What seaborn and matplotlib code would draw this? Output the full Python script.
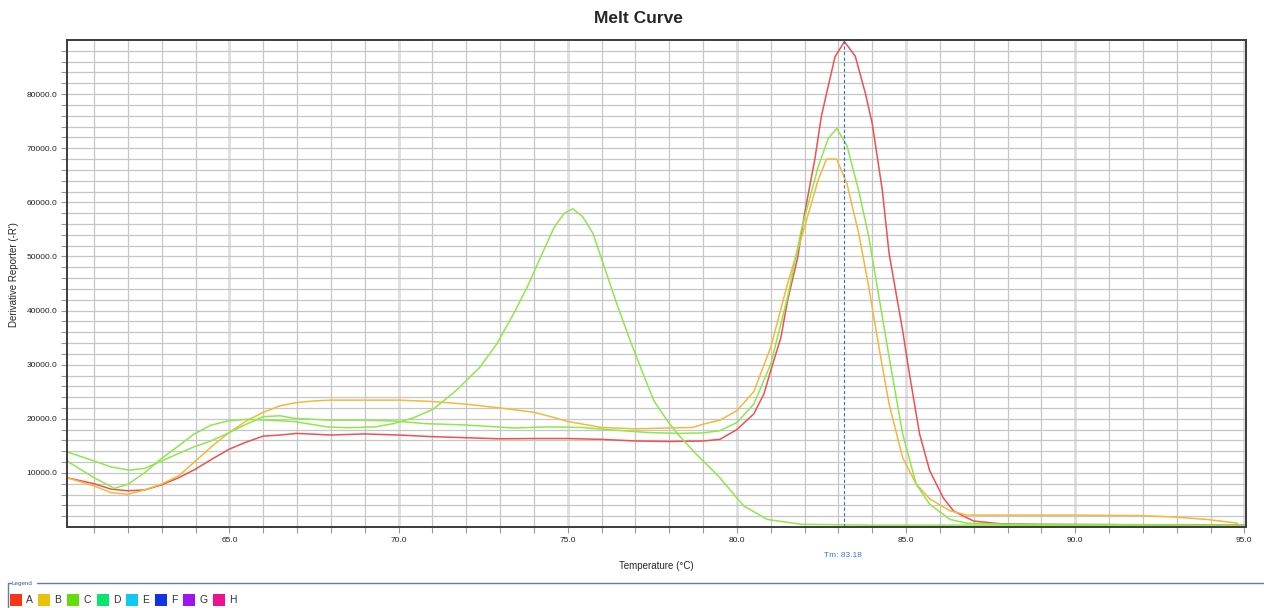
import numpy as np
import pandas as pd
import matplotlib
matplotlib.use("Agg")
import matplotlib.pyplot as plt
from matplotlib.lines import Line2D
from matplotlib.patches import Rectangle
import seaborn as sns

# Well A (red)
temp_a = [60.2, 61.0, 61.5, 62.0, 62.5, 63.0, 63.5, 64.0, 64.5, 65.0, 65.5, 66.0, 66.5, 67.0,
          68.0, 69.0, 70.0, 71.0, 72.0, 73.0, 74.0, 75.0, 76.0, 77.0, 78.0, 79.0, 79.5, 80.0,
          80.5, 80.8, 81.0, 81.3, 81.5, 81.8, 82.0, 82.3, 82.5, 82.9, 83.18, 83.5, 83.8, 84.0,
          84.3, 84.5, 84.9, 85.1, 85.4, 85.7, 86.1, 86.4, 86.7, 87.0, 87.8, 89.0, 91.0, 93.0, 95.0]
rfu_a = [9100, 8000, 7000, 6700, 6850, 7800, 9100, 10700, 12600, 14400, 15700, 16800, 17000, 17300,
         17000, 17200, 17000, 16700, 16500, 16300, 16350, 16350, 16200, 15900, 15800, 15900, 16200, 18000,
         20900, 24600, 28900, 35000, 41900, 49900, 57900, 67800, 76000, 86900, 89700, 87000, 80100, 74600,
         62200, 50500, 36300, 28300, 17200, 10400, 5400, 3000, 2000, 1100, 600, 500, 450, 400, 350]

# Well B (orange)
temp_b = [60.2, 61.0, 61.5, 62.0, 62.5, 63.0, 63.5, 64.0, 64.5, 65.0, 65.5, 66.0, 66.5, 67.0,
          67.5, 68.0, 69.0, 70.0, 71.0, 72.0, 73.0, 74.0, 74.5, 75.0, 76.0, 77.0, 78.0, 78.7,
          79.0, 79.5, 80.0, 80.5, 81.0, 81.5, 82.0, 82.4, 82.65, 82.95, 83.25, 83.6, 83.9, 84.2,
          84.5, 84.9, 85.3, 85.7, 86.3, 86.8, 88.0, 90.0, 92.0, 92.9, 93.9, 94.8]
rfu_b = [9100, 7600, 6350, 6050, 6850, 7950, 9450, 12200, 15000, 17500, 19600, 21200, 22400, 23000,
         23300, 23450, 23450, 23450, 23200, 22700, 22000, 21200, 20400, 19500, 18400, 18150, 18300, 18400,
         19000, 19750, 21500, 25000, 33200, 45000, 55400, 64100, 68000, 68000, 63500, 54300, 44300, 33200,
         22700, 12800, 7950, 5200, 3000, 2200, 2200, 2200, 2100, 1850, 1400, 700]

# Well C (green, main product)
temp_c = [60.2, 61.0, 61.5, 62.05, 62.5, 63.0, 63.5, 63.95, 64.45, 64.95, 65.5, 66.0, 66.5, 66.9,
          67.9, 68.9, 69.85, 70.8, 71.8, 72.4, 73.4, 74.4, 75.4, 76.4, 77.4, 78.3, 79.0, 79.5,
          80.0, 80.5, 81.0, 81.5, 81.9, 82.4, 82.7, 82.95, 83.25, 83.6, 83.9, 84.2, 84.5, 84.9,
          85.3, 85.7, 86.3, 86.8, 88.0, 90.0, 92.0, 94.0, 95.0]
rfu_c = [13900, 12200, 11100, 10500, 10850, 12200, 13600, 14800, 15900, 17300, 19000, 20400, 20550, 20100,
         19750, 19750, 19600, 19100, 18900, 18700, 18300, 18500, 18400, 17900, 17450, 17300, 17400, 17800,
         19300, 22700, 30100, 42500, 54800, 66500, 71800, 73650, 70550, 62200, 53600, 42500, 31400, 17200,
         7900, 4200, 1400, 700, 500, 450, 400, 350, 300]

# Well C replicate (green, primer-dimer peak)
temp_c2 = [60.2, 61.0, 61.6, 62.0, 62.5, 63.0, 63.5, 63.95, 64.45, 64.95, 65.5, 66.1, 66.9, 67.9,
           68.5, 69.3, 69.85, 70.45, 71.03, 71.7, 72.4, 72.9, 73.4, 73.8, 74.2, 74.6, 74.9, 75.15,
           75.45, 75.75, 76.05, 76.45, 76.85, 77.25, 77.55, 77.95, 78.3, 78.8, 79.2, 79.5, 80.2,
           80.9, 81.9, 84.0, 88.0, 92.0, 95.0]
rfu_c2 = [12200, 9100, 7150, 7900, 10050, 12700, 15000, 17150, 18800, 19600, 19900, 19750, 19500, 18500,
          18350, 18500, 19100, 20200, 21800, 25200, 29500, 33800, 39400, 44300, 49900, 55400, 58000, 58800,
          57300, 54200, 48650, 41250, 34400, 27950, 23300, 19600, 16850, 13450, 11000, 9100, 3900,
          1400, 500, 350, 350, 250, 200]

tm_value = 83.18
x_ticks = [65.0, 70.0, 75.0, 80.0, 85.0, 90.0, 95.0]
y_ticks = [10000, 20000, 30000, 40000, 50000, 60000, 70000, 80000]

legend_wells = ["A", "B", "C", "D", "E", "F", "G", "H"]
legend_colors = ["#f5361a", "#e8c20a", "#62dc0a", "#0ae46e", "#12c8ee", "#1232e6", "#a012ee", "#ee1290"]

line_palette = {"A": "#f05050", "B": "#f4b83c", "C": "#8ee84c", "C2": "#8ee84c"}

frames = []
for well, t, v in [("A", temp_a, rfu_a), ("B", temp_b, rfu_b), ("C", temp_c, rfu_c), ("C2", temp_c2, rfu_c2)]:
    frames.append(pd.DataFrame({"temp": t, "rfu": v, "well": well}))
df = pd.concat(frames, ignore_index=True)

sns.set_theme(style="white")
plt.rcParams["font.family"] = ["Liberation Sans", "DejaVu Sans"]

fig = plt.figure(figsize=(12.64, 6.08), dpi=100)
ax = fig.add_axes([0.053, 0.1332, 0.9328, 0.8010])

sns.lineplot(data=df, x="temp", y="rfu", hue="well", palette=line_palette, units="well",
             estimator=None, sort=False, linewidth=1.1, legend=False, ax=ax)

ax.set_xlim(60.2, 95.05)
ax.set_ylim(0, 90000)

ax.set_xticks(x_ticks)
ax.set_xticklabels([f"{t:.1f}" for t in x_ticks], fontsize=6, color="#222222")
ax.set_xticks(np.arange(61, 95, 1.0), minor=True)
ax.set_yticks(y_ticks)
ax.set_yticklabels([f"{v:.1f}" for v in y_ticks], fontsize=6, color="#222222")
ax.set_yticks(np.arange(2000, 90000, 2000), minor=True)

ax.tick_params(which="both", direction="out", length=4, width=0.8, color="#999999",
               bottom=True, left=True, pad=3)

ax.grid(True, which="minor", color="#c6c6c6", linewidth=0.9)
ax.grid(True, which="major", axis="x", color="#dedede", linewidth=2.0)
ax.grid(True, which="major", axis="y", color="#c6c6c6", linewidth=0.9)
ax.set_axisbelow(True)

for side in ["left", "bottom", "top", "right"]:
    ax.spines[side].set_color("#3c3c3c")
    ax.spines[side].set_linewidth(1.4)

ax.axvline(tm_value, color="#2f6fdc", linestyle=(0, (3, 2)), linewidth=0.8)

ax.set_xlabel("")
ax.set_ylabel("")

fig.text(0.505, 0.970, "Melt Curve", ha="center", va="center", fontsize=12.5, weight="bold",
         family=["Liberation Sans Narrow", "Liberation Sans", "DejaVu Sans"])
fig.text(0.011, 0.548, "Derivative Reporter (-R')", rotation=90, ha="center", va="center", fontsize=7)
fig.text(0.519, 0.069, "Temperature (\u00b0C)", ha="center", va="center", fontsize=7)
fig.text(0.667, 0.087, f"Tm: {tm_value}", ha="center", va="center", fontsize=6, color="#3a78d8")

# legend box at the bottom
frame_color = "#5b7fa8"
fig.add_artist(Line2D([8 / 1264, 11 / 1264], [1 - 583 / 608] * 2, color=frame_color, linewidth=1))
fig.add_artist(Line2D([37 / 1264, 1.0], [1 - 583 / 608] * 2, color=frame_color, linewidth=1))
fig.add_artist(Line2D([8 / 1264, 8 / 1264], [1 - 583 / 608, 0.0], color=frame_color, linewidth=1))
fig.text(12 / 1264, 1 - 583 / 608, "Legend", ha="left", va="center", fontsize=4.5, color="#3a5a8a")

sq_x = [10, 38, 67, 97, 126, 155, 183, 213]
for x0, well, col in zip(sq_x, legend_wells, legend_colors):
    fig.add_artist(Rectangle((x0 / 1264, 1 - 606 / 608), 12 / 1264, 12 / 608,
                             facecolor=col, edgecolor="none", transform=fig.transFigure))
    fig.text((x0 + 16) / 1264, 1 - 600 / 608, well, ha="left", va="center", fontsize=7.5, color="#333333")

fig.savefig("out.png", dpi=100)
plt.close(fig)
